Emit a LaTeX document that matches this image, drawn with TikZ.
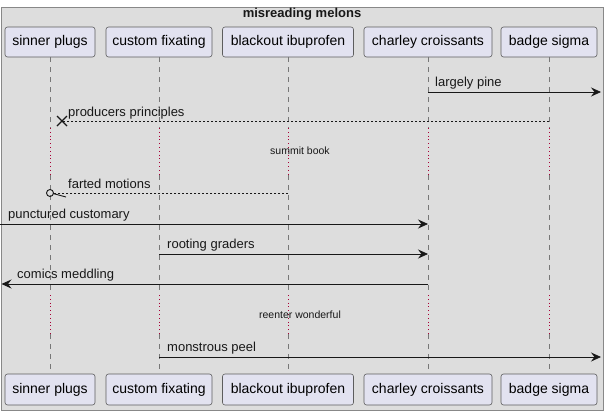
\documentclass[tikz,border=0pt]{standalone}
\usepackage{fontspec}
\setmainfont{Liberation Sans}
\usetikzlibrary{arrows.meta}
\definecolor{framebg}{HTML}{DDDDDD}
\definecolor{partbg}{HTML}{E2E2F0}
\definecolor{ink}{HTML}{181818}
\definecolor{delayred}{HTML}{A80036}
\definecolor{lifegray}{HTML}{777777}
\definecolor{framegray}{HTML}{888888}
\begin{document}
\begin{tikzpicture}[x=1pt,y=-1pt,
  part/.style={draw=ink!70, line width=0.6pt, fill=partbg, rounded corners=2.5pt, inner sep=0pt, font=\fontsize{14}{16}\selectfont},
  msg/.style={draw=ink, line width=0.8pt},
  arr/.style={-{Stealth[length=10pt,width=9pt,inset=3.5pt]}},
  ret/.style={dash pattern=on 2pt off 2pt, line width=0.7pt},
  lbl/.style={anchor=base west, inner sep=0pt, font=\fontsize{13}{15}\selectfont, text=ink},
  life/.style={draw=lifegray, line width=0.7pt, dash pattern=on 5pt off 5pt},
  delay/.style={draw=delayred, line width=0.8pt, dash pattern=on 0.8pt off 3pt},
  dtext/.style={font=\fontsize{10.5}{12}\selectfont, inner sep=0pt, text=ink}]
\useasboundingbox (0,0) rectangle (606,415);
\draw[fill=framebg, draw=framegray, line width=0.8pt] (1,7) rectangle (603,410);
\node[font=\bfseries\fontsize{13}{15}\selectfont, text=ink] (title) at (302,14) {misreading melons};

% participants
\node[part, minimum width=90pt, minimum height=30pt] (p1t) at (50,42) {sinner plugs};
\node[part, minimum width=106pt, minimum height=30pt] (p2t) at (159,42) {custom fixating};
\node[part, minimum width=131pt, minimum height=30pt] (p3t) at (288,42) {blackout ibuprofen};
\node[part, minimum width=128pt, minimum height=30pt] (p4t) at (428,42) {charley croissants};
\node[part, minimum width=96pt, minimum height=30pt] (p5t) at (549,42) {badge sigma};
\node[part, minimum width=90pt, minimum height=31pt] (p1b) at (50,389.5) {sinner plugs};
\node[part, minimum width=106pt, minimum height=31pt] (p2b) at (159,389.5) {custom fixating};
\node[part, minimum width=131pt, minimum height=31pt] (p3b) at (288,389.5) {blackout ibuprofen};
\node[part, minimum width=128pt, minimum height=31pt] (p4b) at (428,389.5) {charley croissants};
\node[part, minimum width=96pt, minimum height=31pt] (p5b) at (549,389.5) {badge sigma};

% delay marks
\coordinate (d1s) at (0,128);
\coordinate (d1e) at (0,175);
\coordinate (d2s) at (0,295);
\coordinate (d2e) at (0,334);
\foreach \p in {p1,p2,p3,p4,p5}{
  \draw[life] (\p t.south) -- (\p t.south |- d1s);
  \draw[delay] (\p t.south |- d1s) -- (\p t.south |- d1e);
  \draw[life] (\p t.south |- d1e) -- (\p t.south |- d2s);
  \draw[delay] (\p t.south |- d2s) -- (\p t.south |- d2e);
  \draw[life] (\p t.south |- d2e) -- (\p b.north);
}
\node[dtext] (summit) at (300,151) {summit book};
\node[dtext] (reenter) at (300,315) {reenter wonderful};

% message rows
\coordinate (y1) at (0,92);
\coordinate (y2) at (0,121);
\coordinate (y4) at (0,193);
\coordinate (y5) at (0,224);
\coordinate (y6) at (0,254);
\coordinate (y7) at (0,284);
\coordinate (y9) at (0,357);

% 1 largely pine
\coordinate (e1) at (601,92);
\draw[msg,arr] (p4t.south |- y1) -- (e1);
\node[lbl] (l1) at (435,86) {largely pine};

% 2 producers principles
\coordinate (x2) at (62,121);
\draw[msg,ret] (p5t.south |- y2) -- (x2);
\draw[ink, line width=1.4pt] (x2) ++(-5,-5) -- ++(10,10) (x2) ++(-5,5) -- ++(10,-10);
\node[lbl] (l2) at (68,116) {producers principles};

% 4 farted motions
\coordinate (c4) at (50,193);
\coordinate (c4e) at (54,193);
\coordinate (h4a) at (53,193.5);
\coordinate (h4b) at (66,197);
\draw[msg,ret] (p3t.south |- y4) -- (c4e);
\draw[ink, line width=0.9pt] (c4) circle (3.5pt);
\draw[ink, line width=0.9pt] (h4a) -- (h4b);
\node[lbl] (l4) at (68,188) {farted motions};

% 5 punctured customary
\coordinate (s5) at (0,224);
\draw[msg,arr] (s5) -- (p4t.south |- y5);
\node[lbl] (l5) at (8,218) {punctured customary};

% 6 rooting graders
\draw[msg,arr] (p2t.south |- y6) -- (p4t.south |- y6);
\node[lbl] (l6) at (167,248) {rooting graders};

% 7 comics meddling
\coordinate (e7) at (1.5,284);
\draw[msg,arr] (p4t.south |- y7) -- (e7);
\node[lbl] (l7) at (17,278) {comics meddling};

% 9 monstrous peel
\coordinate (e9) at (601,357);
\draw[msg,arr] (p2t.south |- y9) -- (e9);
\node[lbl] (l9) at (167,351) {monstrous peel};
\end{tikzpicture}
\end{document}
